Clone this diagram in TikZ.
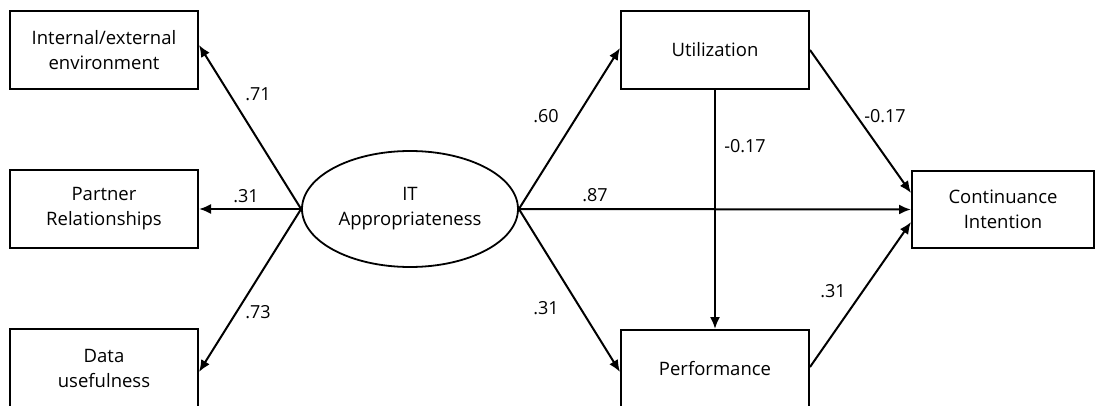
\documentclass[tikz,border=0pt]{standalone}
\usepackage{fontspec}
\setmainfont{Open Sans}
\usetikzlibrary{arrows.meta,shapes.geometric}
\begin{document}
\begin{tikzpicture}[x=1pt,y=-1pt,
  box/.style={draw,line width=2pt,minimum width=188pt,minimum height=78pt,inner sep=0pt,align=center,font=\fontsize{18.5}{25}\selectfont},
  lat/.style={draw,ellipse,line width=1.8pt,minimum width=216pt,minimum height=116pt,inner sep=0pt,align=center,font=\fontsize{18.5}{25}\selectfont},
  arr/.style={line width=2pt,-{Latex[length=12pt,width=10pt]}},
  lbl/.style={inner sep=0pt,font=\fontsize{18}{20}\selectfont}]
\useasboundingbox (0,0) rectangle (1095,406);
\clip (0,0) rectangle (1095,406);
\node[box] (ie) at (104,50) {Internal/external\\environment};
\node[box] (pr) at (104,209) {Partner\\Relationships};
\node[box] (du) at (104,368) {Data\\usefulness};
\node[lat] (it) at (410,209) {IT\\Appropriateness};
\node[box] (ut) at (715,50) {Utilization};
\node[box] (pf) at (715,369) {Performance};
\node[box,minimum width=182pt,minimum height=77pt] (ci) at (1003,209.5) {Continuance\\Intention};
\draw[arr] (it.west) -- ([yshift=5pt]ie.east);
\draw[arr] (it.west) -- (pr.east);
\draw[arr] (it.west) -- ([yshift=-4pt]du.east);
\draw[arr] (it.east) -- ([yshift=2pt]ut.west);
\draw[arr] (it.east) -- (ci.west);
\draw[arr] (it.east) -- ([yshift=-3pt]pf.west);
\draw[arr] (ut.south) -- (pf.north);
\draw[arr] (ut.east) -- ([yshift=16.5pt]ci.west);
\draw[arr] ([yshift=2pt]pf.east) -- ([yshift=-12.5pt]ci.west);
\node[lbl] (l1) at (258,94) {.71};
\node[lbl] (l2) at (246,196) {.31};
\node[lbl] (l3) at (258,312) {.73};
\node[lbl] (l4) at (546,116) {.60};
\node[lbl] (l5) at (595,195) {.87};
\node[lbl] (l6) at (546,308) {.31};
\node[lbl] (l7) at (745,146) {-0.17};
\node[lbl] (l8) at (885,116) {-0.17};
\node[lbl] (l9) at (833,291) {.31};
\end{tikzpicture}
\end{document}
